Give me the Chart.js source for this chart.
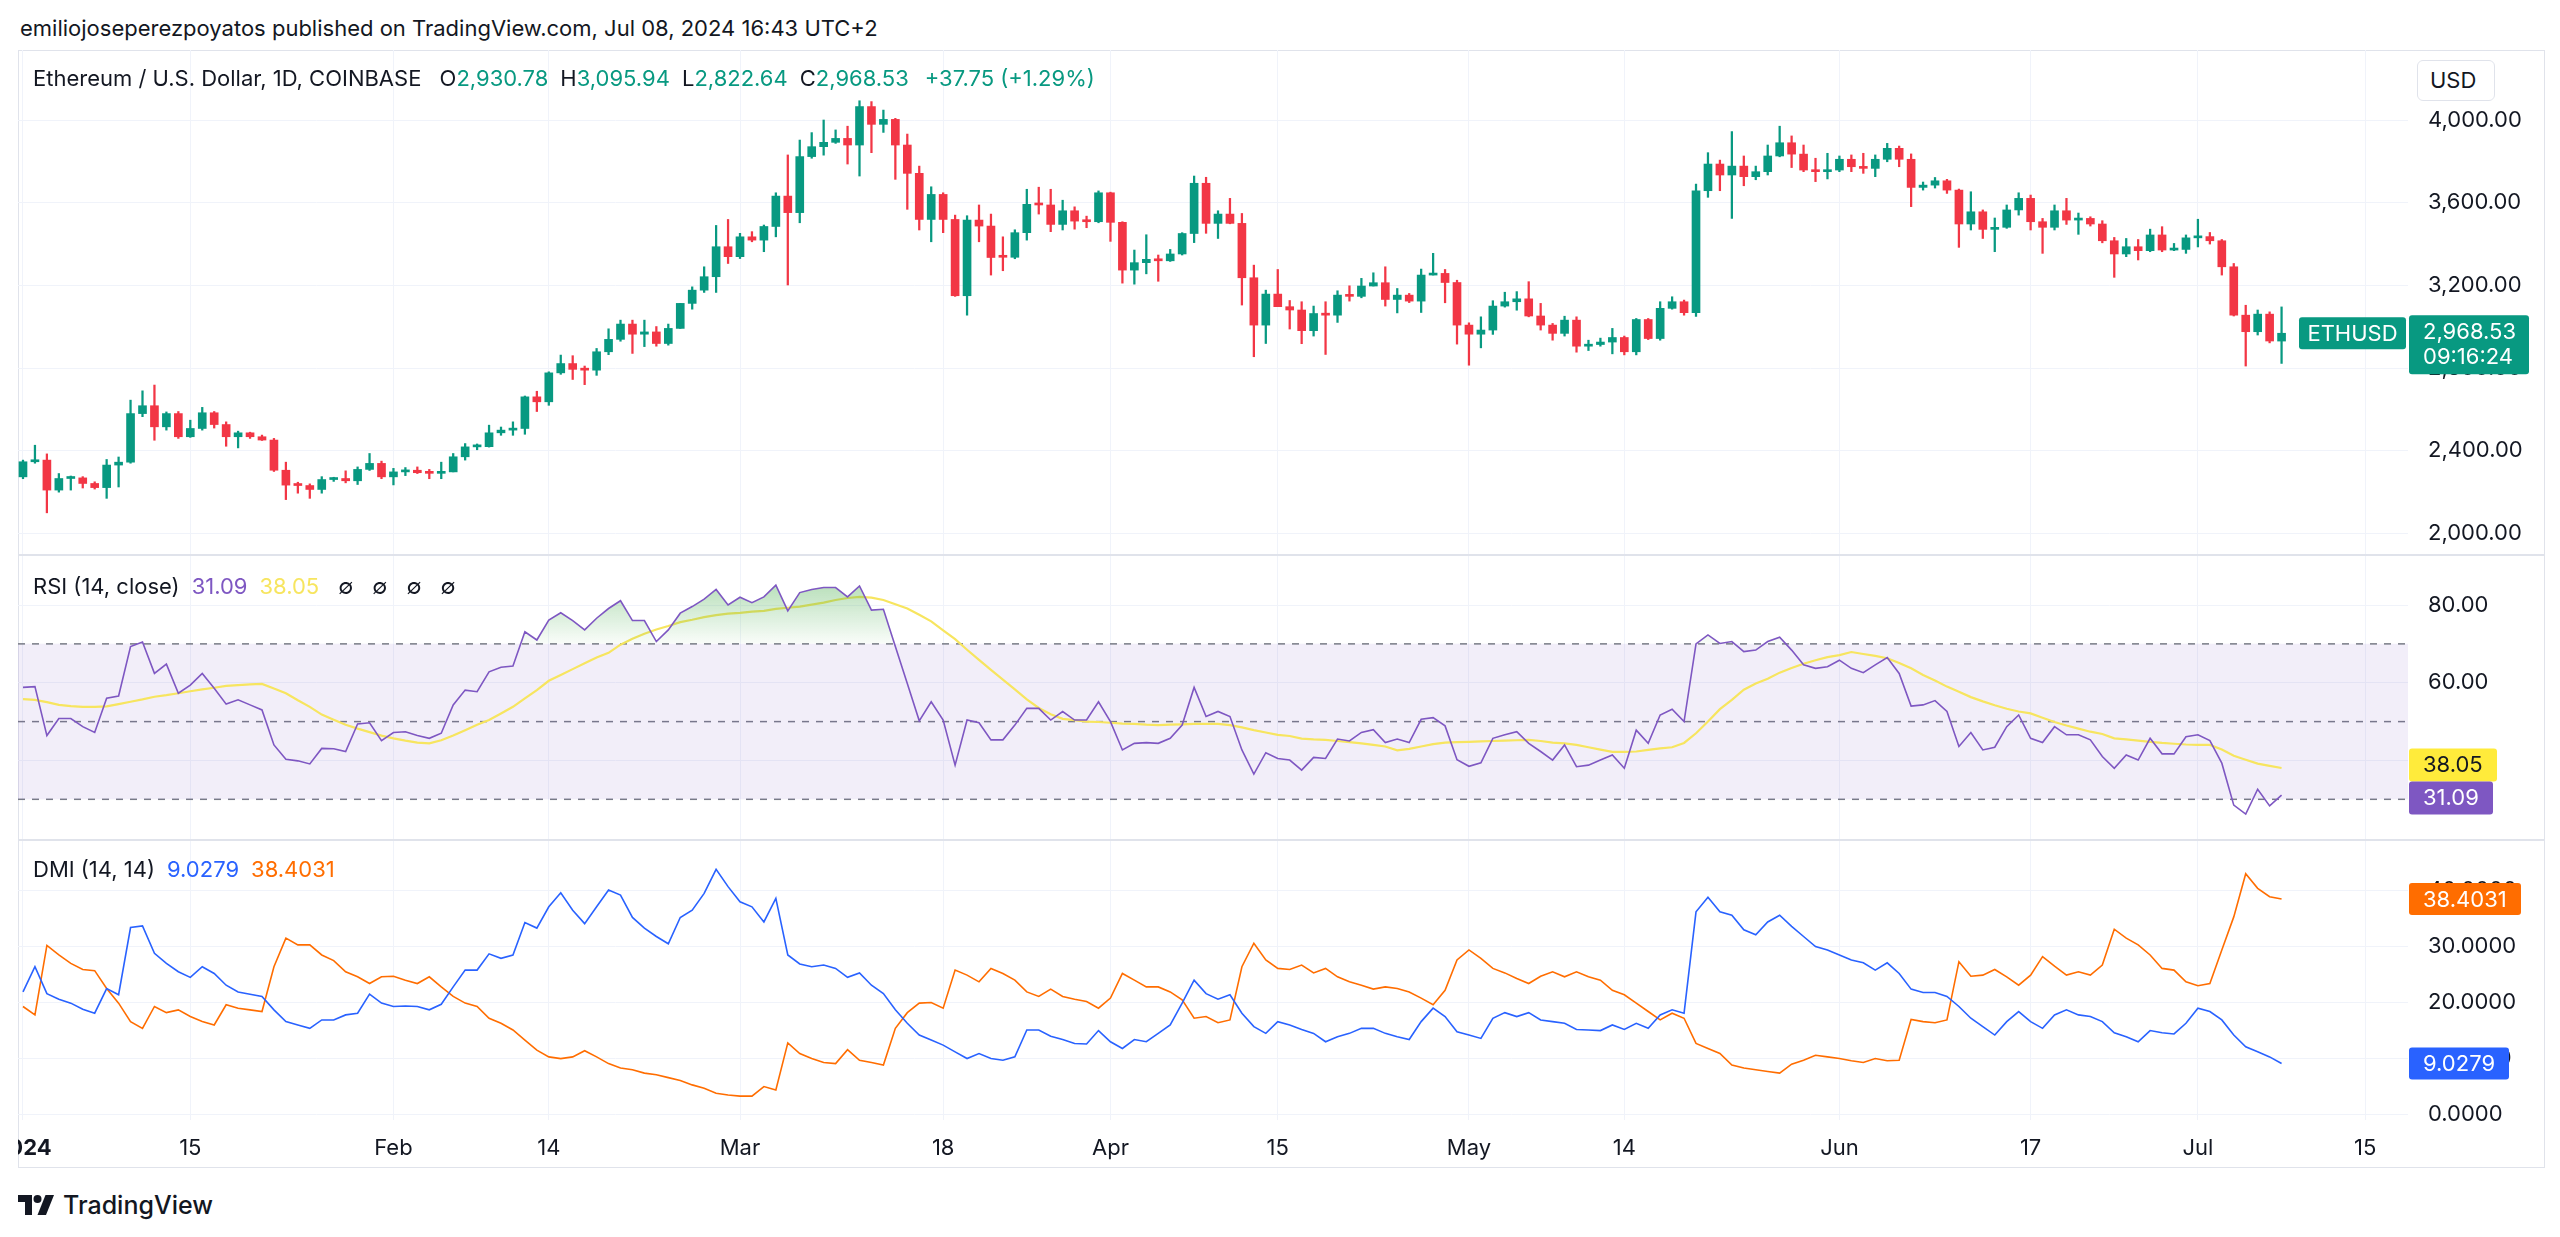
<!DOCTYPE html>
<html>
<head>
<meta charset="utf-8">
<title>ETHUSD 1D</title>
<script src="https://cdn.jsdelivr.net/npm/chart.js@4.4.1/dist/chart.umd.min.js"></script>
<style>
  html, body { margin: 0; padding: 0; background: #fff; }
  body { width: 2560px; height: 1237px; position: relative; overflow: hidden;
         font-family: Inter, "Noto Sans", sans-serif; color: #131722; }
  .t { position: absolute; white-space: nowrap; font-size: 22px; line-height: 28px; z-index: 3; }
  .t span { margin-left: 12px; }
  .t span.sym { margin-left: 19px; }
  .t span.chg { margin-left: 16px; }
  canvas { position: absolute; left: 18px; z-index: 1; }
  #frame { position: absolute; left: 18px; top: 50px; width: 2527px; height: 1118px;
           border: 1px solid #e0e3eb; box-sizing: border-box; }
  .sep { position: absolute; left: 18px; width: 2527px; height: 2px; background: #e0e3eb; z-index: 2; }
  #usd { position: absolute; left: 2417px; top: 60px; width: 78px; height: 41px; box-sizing: border-box;
         border: 1px solid #e0e3eb; border-radius: 6px; background: #fff; font-size: 22px;
         line-height: 39px; padding-left: 12px; z-index: 3; }
  #logo { position: absolute; left: 18px; top: 1190px; z-index: 3; display: flex; align-items: center; }
  #logo b { font-size: 25px; font-weight: 500; margin-left: 9px; }
</style>
</head>
<body>
<div class="t" style="left:20px; top:14px">emiliojoseperezpoyatos published on TradingView.com, Jul 08, 2024 16:43 UTC+2</div>
<div id="frame"></div>
<canvas id="priceChart" width="2527" height="505" style="top:50px"></canvas>
<canvas id="rsiChart" width="2527" height="285" style="top:555px"></canvas>
<canvas id="dmiChart" width="2527" height="328" style="top:840px"></canvas>
<div class="sep" style="top:554px"></div>
<div class="sep" style="top:839px"></div>
<div class="t" id="legPrice" style="left:33px; top:64px"></div>
<div class="t" id="legRsi" style="left:33px; top:572px"></div>
<div class="t" id="legDmi" style="left:33px; top:855px"></div>
<div id="usd">USD</div>
<div id="logo">
  <svg width="36" height="28" viewBox="0 0 36 28"><path d="M14 24H7V11H0V4h14z" fill="#131722"/><circle cx="19.5" cy="8" r="4" fill="#131722"/><path d="M28 24h-8.5L27.5 4H36z" fill="#131722"/></svg>
  <b>TradingView</b>
</div>
<script>
// ETH/USD daily, 1 Jan 2024 (index 0) .. 8 Jul 2024 (index 189)
const openP = [
  2274,2347,2355,2210,2266,2269,2242,2222,2331,2345, 2580,2618,2516,2580,2468,2508,2584,2527,2468,2487,
  2468,2452,2306,2234,2232,2213,2261,2266,2255,2310, 2339,2274,2298,2306,2294,2291,2298,2371,2419,2420,
  2487,2500,2508,2661,2637,2777,2822,2794,2790,2879, 2939,3013,2964,2975,2919,2992,3113,3177,3242,3387,
  3339,3435,3419,3485,3632,3552,3823,3871,3892,3911, 3879,4065,3979,4003,3879,3742,3519,3640,3519,3150,
  3516,3487,3341,3336,3455,3592,3589,3495,3561,3511, 3508,3648,3505,3274,3310,3326,3319,3352,3451,3694,
  3500,3545,3500,3237,3008,3158,3097,3081,2981,3064, 3056,3153,3147,3197,3213,3132,3153,3124,3250,3258,
  3214,3008,2964,2984,3100,3121,3135,3052,3008,2968, 3032,2906,2914,2926,2948,2879,3035,2943,3089,3121,
  3068,3658,3787,3734,3777,3726,3750,3826,3890,3835, 3758,3750,3758,3810,3774,3766,3810,3863,3810,3674,
  3685,3706,3661,3497,3556,3471,3481,3565,3621,3508, 3481,3561,3516,3524,3497,3416,3352,3387,3368,3444,
  3371,3374,3430,3436,3416,3290,3056,2976,3061,2930.78
];
const highP = [
  2355,2427,2385,2290,2278,2275,2250,2358,2370,2645, 2690,2718,2588,2590,2548,2610,2590,2540,2495,2490,
  2476,2460,2345,2248,2240,2275,2272,2303,2322,2387, 2350,2315,2319,2322,2310,2345,2387,2435,2433,2524,
  2515,2540,2665,2688,2782,2863,2860,2810,2895,2990, 3032,3032,3032,3001,3013,3113,3193,3290,3490,3519,
  3452,3460,3492,3648,3831,3903,3939,4000,3952,3970, 4093,4089,4048,4008,3932,3777,3677,3648,3540,3537,
  3589,3545,3435,3469,3665,3675,3665,3612,3580,3535, 3657,3651,3508,3371,3445,3347,3374,3455,3729,3723,
  3561,3621,3548,3298,3177,3277,3127,3121,3100,3121, 3174,3198,3234,3261,3290,3185,3161,3279,3355,3277,
  3225,3019,3048,3126,3167,3170,3218,3113,3016,3051, 3048,2935,2945,2992,2955,3040,3040,3121,3145,3129,
  3690,3842,3806,3944,3826,3777,3879,3970,3923,3879, 3815,3839,3826,3831,3839,3831,3887,3874,3836,3700,
  3722,3713,3666,3653,3565,3526,3589,3648,3637,3524, 3589,3621,3550,3532,3513,3432,3427,3422,3472,3484,
  3403,3444,3520,3456,3422,3306,3104,3081,3072,3095.94
];
const lowP = [
  2265,2340,2100,2200,2210,2220,2215,2170,2225,2340, 2565,2451,2500,2460,2465,2500,2510,2422,2414,2460,
  2450,2300,2164,2195,2170,2195,2252,2245,2237,2305, 2265,2235,2280,2290,2265,2265,2298,2355,2405,2418,
  2475,2475,2480,2590,2620,2770,2745,2720,2765,2865, 2930,2871,2904,2906,2911,2992,3085,3166,3166,3306,
  3330,3411,3363,3435,3202,3503,3815,3830,3887,3787, 3729,3842,3940,3713,3568,3468,3411,3455,3147,3056,
  3411,3250,3271,3329,3419,3545,3460,3468,3472,3479, 3503,3413,3211,3206,3256,3220,3316,3347,3407,3452,
  3427,3498,3105,2855,2919,3097,2989,2918,2955,2866, 3021,3124,3140,3197,3100,3067,3117,3069,3250,3116,
  2916,2814,2898,2963,3095,3080,3048,2984,2935,2955, 2877,2885,2906,2869,2864,2864,2938,2935,3085,3056,
  3050,3626,3658,3524,3682,3711,3734,3822,3770,3750, 3702,3715,3750,3750,3742,3726,3798,3774,3581,3661,
  3671,3645,3384,3468,3427,3363,3476,3540,3468,3355, 3468,3495,3447,3487,3406,3239,3339,3323,3363,3363,
  3368,3355,3386,3400,3250,3052,2810,2960,2922,2822.64
];
const closeP = [
  2347,2355,2210,2266,2269,2242,2222,2331,2345,2580, 2618,2516,2580,2468,2508,2584,2527,2468,2487,2468,
  2452,2306,2234,2232,2213,2261,2266,2255,2310,2339, 2274,2298,2306,2294,2291,2298,2371,2419,2420,2487,
  2500,2508,2661,2637,2777,2822,2794,2790,2879,2939, 3013,2964,2975,2919,2992,3113,3177,3242,3387,3339,
  3435,3419,3485,3632,3552,3823,3871,3892,3911,3879, 4065,3979,4003,3879,3742,3519,3640,3519,3150,3516,
  3487,3335,3336,3455,3592,3589,3495,3561,3511,3508, 3648,3505,3274,3310,3326,3319,3352,3451,3694,3500,
  3545,3500,3237,3008,3158,3097,3081,2981,3064,3056, 3153,3147,3197,3213,3132,3153,3124,3250,3258,3214,
  3008,2964,2984,3100,3121,3135,3052,3008,2968,3032, 2906,2914,2926,2948,2879,3035,2943,3089,3121,3068,
  3658,3787,3734,3777,3726,3750,3826,3890,3835,3758, 3750,3758,3810,3774,3766,3810,3863,3810,3674,3685,
  3706,3661,3497,3556,3471,3481,3565,3621,3508,3481, 3561,3516,3524,3497,3416,3352,3387,3368,3444,3371,
  3374,3430,3436,3416,3290,3056,2976,3061,2931,2968.53
];

// RSI (14, close) and its MA
const rsi = [
  58.8,59.0,46.4,50.8,50.8,48.7,47.2,56.0,56.6,69.3, 70.5,62.4,64.8,57.3,59.4,62.4,58.6,54.5,55.6,54.3,
  53.0,44.0,40.3,39.9,39.1,43.1,43.0,42.3,49.4,49.7, 45.1,47.2,47.4,46.4,45.7,47.0,54.3,58.1,57.7,62.8,
  64.0,64.3,73.1,71.0,76.1,78.0,76.0,73.6,76.6,79.1, 81.1,76.0,76.0,70.6,73.6,77.9,79.6,81.5,84.0,80.0,
  82.0,80.6,82.1,85.1,78.5,83.2,84.0,84.5,84.5,82.1, 84.9,78.7,78.9,69.3,59.8,50.2,55.1,50.4,38.8,50.4,
  49.7,45.3,45.3,49.1,53.4,53.4,50.4,52.6,50.4,50.4, 55.1,50.0,42.7,44.4,44.6,44.4,45.7,49.1,58.8,51.3,
  52.6,51.3,42.7,36.5,42.0,40.5,40.1,37.5,40.8,40.5, 45.5,45.0,47.2,47.9,44.6,45.5,44.6,50.6,51.0,48.9,
  40.2,38.5,39.4,45.7,46.6,47.4,44.4,42.3,40.1,44.0, 38.4,38.8,40.1,41.4,38.0,47.8,44.4,51.7,53.2,50.0,
  70.0,72.3,70.1,70.6,68.0,68.4,70.6,71.7,68.4,64.6, 63.7,64.1,65.8,63.7,62.6,64.6,66.5,62.4,54.0,54.3,
  55.4,52.6,43.6,47.2,42.7,43.4,48.7,51.7,45.7,44.6, 48.7,46.6,46.6,45.3,41.0,38.0,41.4,40.1,45.7,41.7,
  41.7,46.1,46.6,45.1,39.3,28.5,26.2,32.6,28.3,31.09
];
const rsiMa = [
  55.8,55.6,55.0,54.3,54.0,53.8,53.8,53.9,54.5,55.1, 55.7,56.4,56.8,57.3,57.8,58.3,58.7,59.2,59.4,59.6,
  59.7,58.5,57.3,55.5,53.8,51.8,50.5,49.2,48.2,47.3, 46.4,45.7,45.1,44.6,44.4,45.2,46.4,47.8,49.2,50.4,
  52.1,53.8,56.0,58.1,60.5,62.0,63.5,65.0,66.5,67.7, 69.8,71.3,72.6,73.7,74.6,75.6,76.2,76.9,77.4,77.8,
  78.0,78.3,78.5,79.0,79.3,79.6,80.1,80.6,81.3,81.8, 82.1,81.9,81.3,80.2,79.1,77.5,75.8,73.5,71.2,68.5,
  65.9,63.3,60.8,58.3,55.7,53.5,51.9,50.7,50.4,50.0, 49.9,49.7,49.5,49.4,49.2,49.1,49.2,49.3,49.4,49.4,
  49.4,49.1,48.5,47.8,47.2,46.6,46.3,45.6,45.4,45.3, 45.0,44.7,44.4,44.0,43.6,42.6,43.0,43.6,44.2,44.6,
  44.7,44.8,44.9,45.0,45.1,45.2,45.3,45.0,44.6,44.4, 44.0,43.4,42.8,42.2,42.2,42.3,42.7,43.1,43.4,44.5,
  47.0,50.0,53.2,55.6,58.2,59.8,61.0,62.6,63.8,64.9, 65.8,66.6,67.1,67.9,67.4,66.9,66.3,65.1,63.7,62.0,
  60.6,59.0,57.7,56.3,55.2,54.2,53.3,52.6,52.1,51.0, 49.9,49.0,48.2,47.4,46.8,45.7,45.4,45.1,44.8,44.5,
  44.3,44.1,44.0,44.0,42.8,41.2,40.2,39.2,38.6,38.05
];
const rsiLevels = [70, 50, 30];

// DMI (14, 14): +DI and -DI
const diPlus = [
  21.8,26.3,21.5,20.5,19.8,18.7,18.0,22.4,21.3,33.3, 33.6,28.7,26.9,25.4,24.4,26.3,25.1,23.0,21.8,21.4,
  21.0,18.6,16.5,15.9,15.3,16.8,16.8,17.7,18.0,21.4, 19.8,19.2,19.3,19.2,18.6,19.6,22.7,25.7,25.7,28.6,
  27.8,28.4,34.2,33.2,37.0,39.5,36.4,34.0,37.0,40.0, 39.1,35.1,33.2,31.7,30.4,35.1,36.4,39.4,43.7,40.6,
  37.9,37.0,34.3,38.5,28.4,26.8,26.3,26.6,26.0,24.4, 25.2,23.0,21.5,18.6,16.2,14.1,13.2,12.3,11.1,9.9,
  10.8,9.9,9.6,10.2,15.0,15.0,13.9,13.3,12.6,12.5, 14.9,12.9,11.7,13.3,12.9,14.4,15.9,19.8,23.9,21.5,
  20.5,21.3,18.0,15.6,14.4,16.5,15.9,15.1,14.4,12.9, 13.8,14.4,15.3,15.3,14.4,13.8,13.3,16.5,18.9,17.4,
  14.7,14.1,13.5,17.1,18.1,17.4,18.1,16.8,16.5,16.2, 15.1,15.0,14.9,15.9,15.1,16.2,15.3,17.7,18.6,18.0,
  36.1,38.7,36.1,35.5,32.9,32.0,34.3,35.5,33.5,31.7, 29.9,29.3,28.4,27.5,27.0,25.7,27.0,25.1,22.3,21.7,
  21.7,21.0,19.2,17.1,15.6,14.1,16.5,18.3,16.5,15.3, 17.7,18.6,17.7,17.4,16.5,14.5,13.8,12.9,14.9,14.5,
  14.3,16.2,18.9,18.3,16.8,14.1,12.0,11.1,10.2,9.0279
];
const diMinus = [
  19.2,17.7,30.1,28.4,26.9,25.8,25.6,22.4,19.8,16.5, 15.3,19.2,18.1,18.6,17.4,16.5,15.9,19.5,18.9,18.6,
  18.3,26.3,31.4,30.2,30.2,28.4,27.4,25.4,24.5,23.3, 24.5,24.6,23.9,23.3,24.5,22.7,21.0,19.8,19.2,17.1,
  16.2,15.0,13.2,11.4,10.2,9.9,10.2,11.3,10.2,9.0, 8.2,7.9,7.3,7.0,6.5,6.0,5.2,4.6,3.7,3.4,
  3.2,3.2,4.9,4.3,12.7,10.8,9.9,9.2,9.0,11.5, 9.6,9.2,8.75,15.3,18.1,19.8,19.9,18.9,25.7,24.8,
  23.6,26.0,25.1,23.9,21.8,21.0,22.3,21.0,20.5,20.1, 18.9,20.7,25.1,23.9,22.7,22.7,21.8,20.4,17.1,17.4,
  16.3,16.8,26.3,30.5,27.5,26.0,25.8,26.6,25.2,26.0, 24.5,23.6,23.0,22.3,22.7,22.4,21.8,20.7,19.5,22.1,
  27.5,29.3,27.8,26.0,25.2,24.2,23.3,24.6,25.4,24.5, 25.4,24.5,23.9,22.1,21.3,19.8,18.3,16.8,18.0,17.1,
  12.6,11.7,10.8,8.75,8.2,7.9,7.6,7.3,8.9,9.6, 10.5,10.2,9.9,9.5,9.2,9.9,9.5,9.6,16.9,16.5,
  16.3,16.8,27.2,24.6,24.8,25.8,24.5,23.0,24.8,28.1, 26.4,24.8,25.4,24.8,26.6,33.0,31.4,30.2,28.4,26.0,
  25.7,23.6,22.9,23.3,29.3,35.2,42.9,40.3,38.8,38.4031
];

// time axis: day index since 1 Jan 2024
const xTickDays = [0, 14, 31, 44, 60, 77, 91, 105, 121, 134, 152, 168, 182, 196];
const xTickLabels = ['2024', '15', 'Feb', '14', 'Mar', '18', 'Apr', '15', 'May', '14', 'Jun', '17', 'Jul', '15'];
const priceTicks = [2000, 2400, 2800, 3200, 3600, 4000];
const rsiTicks = [40, 60, 80];
const dmiTicks = [0, 10, 20, 30, 40];

const UP = '#089981', DOWN = '#F23645';
const RSI_C = '#7E57C2', MA_C = '#F7E55F', PLUS_C = '#2962FF', MINUS_C = '#FF6D00';
const TXT = '#131722', GRID = '#f0f3fa';
const FONT = 'Inter, "Noto Sans", sans-serif';
const AXIS_W = 137;
const xMin = -0.418, xMax = 199.58;
const last = closeP.length - 1;

Chart.defaults.font.family = FONT;

const fmt2 = v => v.toLocaleString('en-US', {minimumFractionDigits: 2, maximumFractionDigits: 2});

function xAxis(showLabels) {
  return {
    type: 'linear', min: xMin, max: xMax, offset: false,
    afterBuildTicks: s => { s.ticks = xTickDays.map(v => ({value: v})); },
    afterFit: s => { s.paddingLeft = 0; s.paddingRight = 0; s.height = showLabels ? 48 : 0; },
    grid: {color: GRID, drawTicks: false, offset: false},
    border: {display: false},
    ticks: {
      display: showLabels, padding: 15, color: TXT, autoSkip: false, maxRotation: 0,
      font: c => ({family: FONT, size: 22, weight: c.tick && c.tick.value === 0 ? 'bold' : 'normal'}),
      callback: v => xTickLabels[xTickDays.indexOf(v)]
    }
  };
}

function yAxis(min, max, ticks, fmt) {
  return {
    position: 'right', min, max,
    afterBuildTicks: s => { s.ticks = ticks.map(v => ({value: v})); },
    afterFit: s => { s.width = AXIS_W; s.paddingTop = 0; s.paddingBottom = 0; },
    grid: {color: GRID, drawTicks: false},
    border: {display: false},
    ticks: {padding: 20, color: TXT, font: {family: FONT, size: 22}, callback: fmt}
  };
}

// value boxes on the price axis
function tagPlugin(items) {
  return {
    id: 'tags',
    afterDraw(chart) {
      const {ctx, chartArea} = chart;
      const ys = chart.scales.y;
      const list = items.map(it => Object.assign({}, it, {cy: ys.getPixelForValue(it.value)}));
      const stacked = list.filter(it => it.stack).sort((a, b) => a.cy - b.cy);
      for (let i = 1; i < stacked.length; i++) {
        const a = stacked[i - 1], b = stacked[i];
        const need = (a.h + b.h) / 2;
        if (b.cy - a.cy < need) {
          const mid = (a.cy + b.cy) / 2;
          a.cy = mid - need / 2; b.cy = mid + need / 2;
        }
      }
      ctx.save();
      ctx.font = '22px ' + FONT;
      ctx.textBaseline = 'middle';
      list.forEach(it => {
        const w = it.w || Math.round(ctx.measureText(it.lines[0]).width + 28);
        const x = chartArea.right + it.dx;
        const y = it.cy + (it.dy !== undefined ? it.dy : -it.h / 2);
        ctx.fillStyle = it.bg;
        ctx.beginPath();
        ctx.roundRect(x, y, w, it.h, 3);
        ctx.fill();
        ctx.fillStyle = it.fg;
        ctx.textAlign = it.center ? 'center' : 'left';
        it.lines.forEach((ln, k) => {
          ctx.fillText(ln, it.center ? x + w / 2 : x + 14, y + 17 + k * 25);
        });
      });
      ctx.restore();
    }
  };
}

const candleColors = closeP.map((c, i) => c >= openP[i] ? UP : DOWN);
const bodies = closeP.map((c, i) => ({x: i, y: [openP[i], c]}));
const wicks = highP.map((h, i) => ({x: i, y: [lowP[i], h]}));

const baseOpts = {
  responsive: false, animation: false, events: [],
  layout: {padding: 0, autoPadding: false},
  plugins: {legend: {display: false}, tooltip: {enabled: false}}
};

new Chart(document.getElementById('priceChart'), {
  type: 'bar',
  data: {
    datasets: [
      {data: bodies, backgroundColor: candleColors, borderWidth: 0, barThickness: 8, minBarLength: 2, grouped: false, order: 0},
      {data: wicks, backgroundColor: candleColors, borderWidth: 0, barThickness: 1.6, grouped: false, order: 1}
    ]
  },
  options: Object.assign({}, baseOpts, {
    scales: {x: xAxis(false), y: yAxis(1896, 4338.6, priceTicks, v => fmt2(v))}
  }),
  plugins: [tagPlugin([
    {value: closeP[last], lines: ['ETHUSD'], bg: UP, fg: '#fff', dx: -109, w: 107, h: 32, center: true},
    {value: closeP[last], lines: [fmt2(closeP[last]), '09:16:24'], bg: UP, fg: '#fff', dx: 1, w: 120, h: 59, dy: -18}
  ])]
});

const rsiPts = rsi.map((v, i) => ({x: i, y: v}));
const maPts = rsiMa.map((v, i) => ({x: i, y: v}));
const level = v => [{x: xMin, y: v}, {x: xMax, y: v}];
const dashed = {borderColor: '#787b86', borderWidth: 1.5, borderDash: [7, 7], pointRadius: 0};
const obFallback = 'rgba(76,175,80,0.25)';

new Chart(document.getElementById('rsiChart'), {
  type: 'line',
  data: {
    datasets: [
      {data: rsiPts, borderColor: RSI_C, borderWidth: 1.6, pointRadius: 0, order: 0,
       fill: {target: {value: rsiLevels[0]}, below: 'rgba(0,0,0,0)'},
       backgroundColor: c => {
         const ys = c.chart.scales.y;
         if (!ys || !c.chart.chartArea) return obFallback;
         const y0 = ys.getPixelForValue(92), y1 = ys.getPixelForValue(70);
         if (!isFinite(y0) || !isFinite(y1)) return obFallback;
         const g = c.chart.ctx.createLinearGradient(0, y0, 0, y1);
         g.addColorStop(0, 'rgba(76,175,80,0.55)');
         g.addColorStop(1, 'rgba(76,175,80,0.03)');
         return g;
       }},
      {data: maPts, borderColor: MA_C, borderWidth: 2.2, pointRadius: 0, fill: false, order: 1},
      Object.assign({data: level(rsiLevels[0]), fill: 4, backgroundColor: 'rgba(126,87,194,0.1)', order: 5}, dashed),
      Object.assign({data: level(rsiLevels[1]), fill: false, order: 5}, dashed),
      Object.assign({data: level(rsiLevels[2]), fill: false, order: 5}, dashed)
    ]
  },
  options: Object.assign({}, baseOpts, {
    scales: {x: xAxis(false), y: yAxis(19.53, 92.87, rsiTicks, v => v.toFixed(2))}
  }),
  plugins: [tagPlugin([
    {value: rsiMa[last], lines: [rsiMa[last].toFixed(2)], bg: '#FFEB3B', fg: TXT, dx: 1, h: 33, stack: true},
    {value: rsi[last], lines: [rsi[last].toFixed(2)], bg: RSI_C, fg: '#fff', dx: 1, h: 33, stack: true}
  ])]
});

new Chart(document.getElementById('dmiChart'), {
  type: 'line',
  data: {
    datasets: [
      {data: diPlus.map((v, i) => ({x: i, y: v})), borderColor: PLUS_C, borderWidth: 1.6, pointRadius: 0, fill: false},
      {data: diMinus.map((v, i) => ({x: i, y: v})), borderColor: MINUS_C, borderWidth: 1.6, pointRadius: 0, fill: false}
    ]
  },
  options: Object.assign({}, baseOpts, {
    scales: {x: xAxis(true), y: yAxis(-1.07, 48.93, dmiTicks, v => v.toFixed(4))}
  }),
  plugins: [tagPlugin([
    {value: diMinus[last], lines: [diMinus[last].toFixed(4)], bg: MINUS_C, fg: '#fff', dx: 1, h: 32},
    {value: diPlus[last], lines: [diPlus[last].toFixed(4)], bg: PLUS_C, fg: '#fff', dx: 1, h: 32}
  ])]
});

// legends
const chg = closeP[last] - openP[last];
const pct = chg / openP[last] * 100;
const col = (c, t, cls) => '<span' + (cls ? ' class="' + cls + '"' : '') + ' style="color:' + c + '">' + t + '</span>';
const ohlc = (k, v) => '<span>' + k + '<b style="font-weight:400;color:' + UP + '">' + fmt2(v) + '</b></span>';
document.getElementById('legPrice').innerHTML =
  'Ethereum / U.S. Dollar, 1D, COINBASE&nbsp;' +
  ohlc('O', openP[last]) + ohlc('H', highP[last]) + ohlc('L', lowP[last]) + ohlc('C', closeP[last]) +
  col(UP, '+' + chg.toFixed(2) + ' (+' + pct.toFixed(2) + '%)', 'chg');
document.getElementById('legRsi').innerHTML =
  'RSI (14, close)' + col(RSI_C, rsi[last].toFixed(2)) + col(MA_C, rsiMa[last].toFixed(2)) +
  '<span class="sym">∅</span><span class="sym">∅</span><span class="sym">∅</span><span class="sym">∅</span>';
document.getElementById('legDmi').innerHTML =
  'DMI (14, 14)' + col(PLUS_C, diPlus[last].toFixed(4)) + col(MINUS_C, diMinus[last].toFixed(4));
</script>
</body>
</html>
